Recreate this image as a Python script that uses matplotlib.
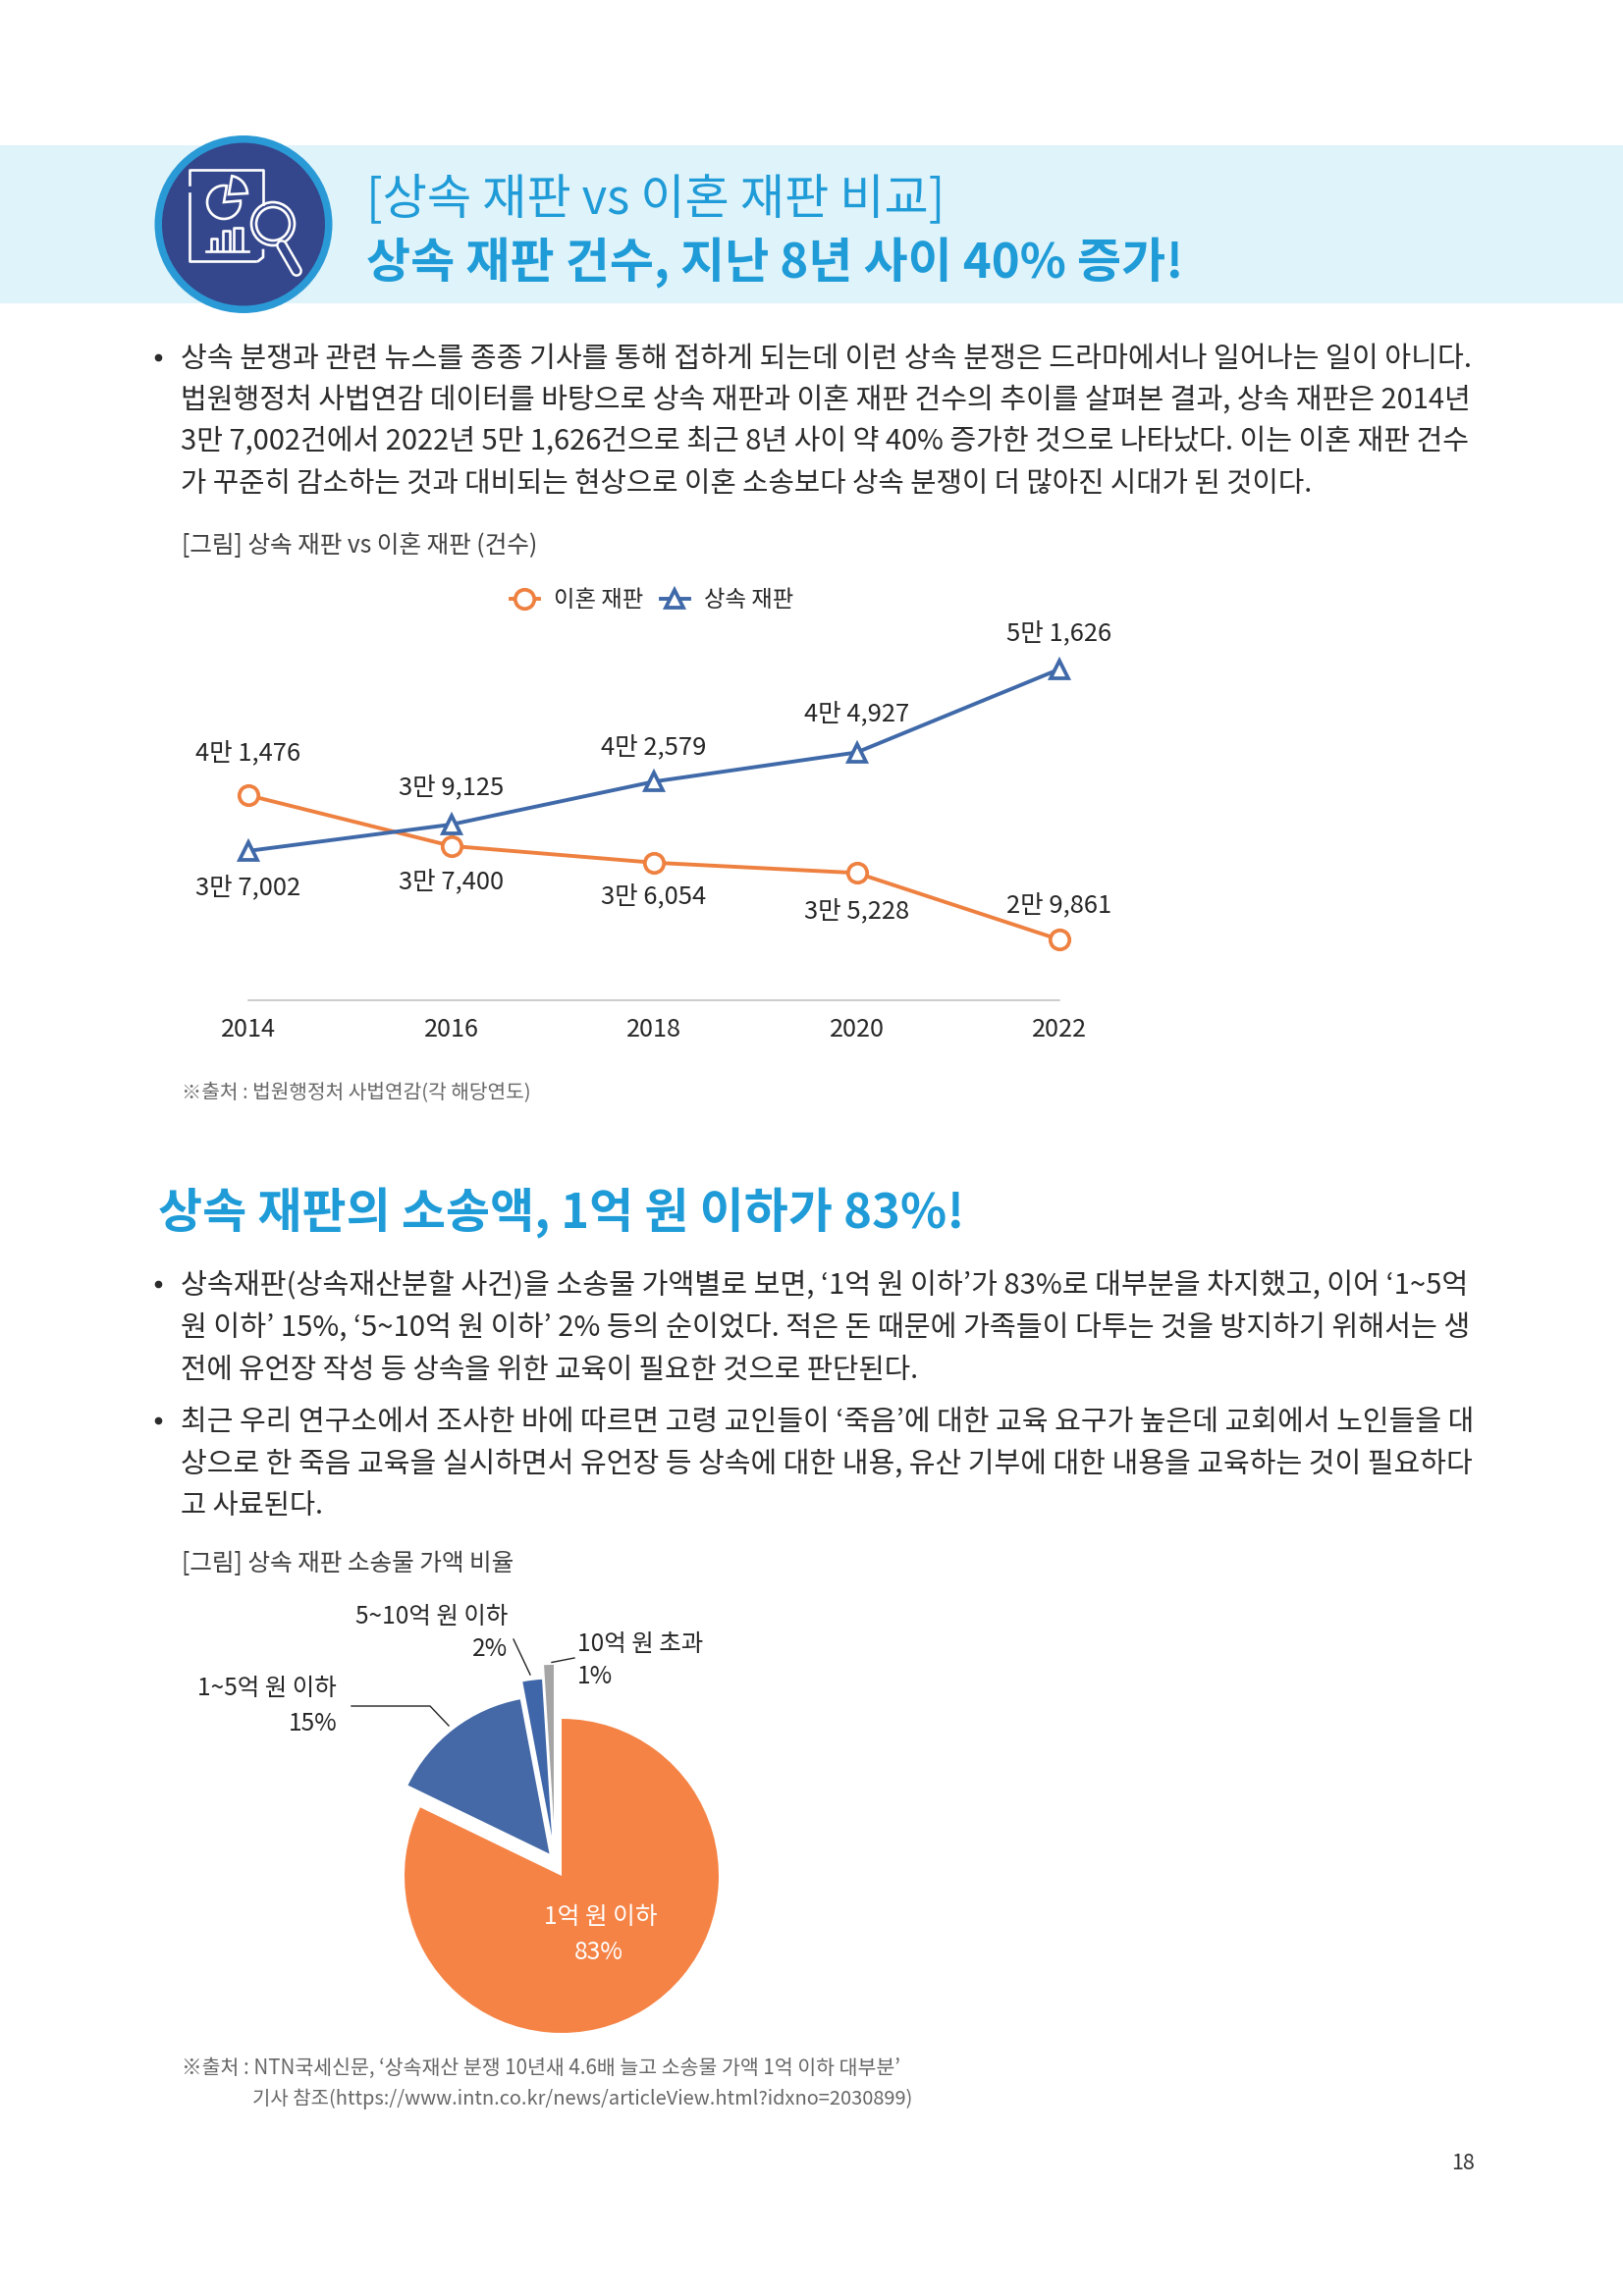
import matplotlib
matplotlib.use("Agg")
import matplotlib.pyplot as plt
from matplotlib.patches import Circle, Rectangle, Wedge

FONT = ['Noto Sans CJK KR', 'DejaVu Sans']
plt.rcParams['font.family'] = FONT
W, H = 1653, 2339
S = W / 1108

# ---------- data ----------
years = [2014, 2016, 2018, 2020, 2022]
divorce = [41476, 37400, 36054, 35228, 29861]
inherit = [37002, 39125, 42579, 44927, 51626]
divorce_labels = ['4만 1,476', '3만 7,400', '3만 6,054', '3만 5,228', '2만 9,861']
inherit_labels = ['3만 7,002', '3만 9,125', '4만 2,579', '4만 4,927', '5만 1,626']
series_names = ['이혼 재판', '상속 재판']
pie_values = [83, 15, 2, 1]
pie_colors = ['#F58345', '#4469A6', '#3F66A8', '#A5A5A5']

para1 = ['상속 분쟁과 관련 뉴스를 종종 기사를 통해 접하게 되는데 이런 상속 분쟁은 드라마에서나 일어나는 일이 아니다.',
         '법원행정처 사법연감 데이터를 바탕으로 상속 재판과 이혼 재판 건수의 추이를 살펴본 결과, 상속 재판은 2014년',
         '3만 7,002건에서 2022년 5만 1,626건으로 최근 8년 사이 약 40% 증가한 것으로 나타났다. 이는 이혼 재판 건수',
         '가 꾸준히 감소하는 것과 대비되는 현상으로 이혼 소송보다 상속 분쟁이 더 많아진 시대가 된 것이다.']
para2 = ['상속재판(상속재산분할 사건)을 소송물 가액별로 보면, ‘1억 원 이하’가 83%로 대부분을 차지했고, 이어 ‘1~5억',
         '원 이하’ 15%, ‘5~10억 원 이하’ 2% 등의 순이었다. 적은 돈 때문에 가족들이 다투는 것을 방지하기 위해서는 생',
         '전에 유언장 작성 등 상속을 위한 교육이 필요한 것으로 판단된다.']
para3 = ['최근 우리 연구소에서 조사한 바에 따르면 고령 교인들이 ‘죽음’에 대한 교육 요구가 높은데 교회에서 노인들을 대',
         '상으로 한 죽음 교육을 실시하면서 유언장 등 상속에 대한 내용, 유산 기부에 대한 내용을 교육하는 것이 필요하다',
         '고 사료된다.']

fig = plt.figure(figsize=(W / 100, H / 100), dpi=100, facecolor='white')
bg = fig.add_axes([0, 0, 1, 1])
bg.set_xlim(0, W)
bg.set_ylim(H, 0)
bg.axis('off')
rend = fig.canvas.get_renderer()
DARK = '#2B2B2B'
BLUE = '#1F9BD7'
NAVYBG = '#35478C'


def fit(txt, x0, x1, y, color=DARK, weight='normal', fs=20, ha='left'):
    """Text in page coordinates of the 1108-wide view, fitted to the width x0..x1."""
    t = bg.text(x0 * S, (y + 1.5) * S, txt, color=color, weight=weight, fontsize=fs,
                ha=ha, va='center', family=FONT)
    w = t.get_window_extent(rend).width
    t.set_fontsize(fs * (x1 - x0) * S / w)
    return t


# ---------- header ----------
bg.add_patch(Rectangle((0, 148), W, 161, fc='#DFF3FA', ec='none'))
bg.add_patch(Circle((248, 228.5), 90.5, fc='#2A9AD6', ec='none'))
bg.add_patch(Circle((248, 228.5), 83, fc=NAVYBG, ec='none'))
LW = 1.9
bg.plot([193, 193, 268, 268], [188, 173, 173, 208], color='white', lw=LW)
bg.plot([268, 268, 263], [255, 262, 266], color='white', lw=LW)
bg.plot([260, 193, 193], [266, 266, 197], color='white', lw=LW)
bg.add_patch(Wedge((228, 206), 17, -5, 280, fc='none', ec='white', lw=LW))
bg.add_patch(Wedge((233, 198), 19, -80, -3, fc='none', ec='white', lw=LW))
for bx, bw, top in zip([215, 227, 238], [6, 7, 9], [243, 235, 232]):
    bg.plot([bx, bx, bx + bw, bx + bw], [255, top, top, 255], color='white', lw=LW)
bg.plot([210, 253], [256, 256], color='white', lw=LW)
bg.plot([287, 302], [250, 276], color='white', lw=8.5, solid_capstyle='round')
bg.plot([287, 302], [250, 276], color=NAVYBG, lw=5, solid_capstyle='round')
bg.add_patch(Circle((278, 228), 22, fc=NAVYBG, ec='white', lw=LW))
bg.add_patch(Circle((278, 228), 17, fc='none', ec='white', lw=LW))

fit('[상속 재판 vs 이혼 재판 비교]', 250, 645, 134.5, color=BLUE)
fit('상속 재판 건수, 지난 8년 사이 40% 증가!', 250, 806, 178, color=BLUE, weight='bold')

# ---------- body text ----------
rights1 = [1003, 1003, 1003, 894]
for txt, y, r in zip(para1, [244, 272, 300, 329], rights1):
    fit(txt, 123, r, y)
for txt, y, r in zip(para2, [877, 905, 934], [1003, 1003, 626]):
    fit(txt, 123, r, y)
for txt, y, r in zip(para3, [970, 998, 1027], [1003, 1003, 220]):
    fit(txt, 123, r, y)
for y in [244, 877, 970]:
    bg.plot([108 * S], [y * S], 'o', color=DARK, ms=4.5)

fit('[그림] 상속 재판 vs 이혼 재판 (건수)', 124, 367, 371, color='#404040')
fit('※출처 : 법원행정처 사법연감(각 해당연도)', 124, 362, 745, color='#666666')
fit('상속 재판의 소송액, 1억 원 이하가 83%!', 108, 657, 827, color=BLUE, weight='bold')
fit('[그림] 상속 재판 소송물 가액 비율', 124, 351, 1066, color='#404040')
fit('※출처 : NTN국세신문, ‘상속재산 분쟁 10년새 4.6배 늘고 소송물 가액 1억 이하 대부분’', 124, 614, 1411, color='#666666')
fit('기사 참조(https://www.intn.co.kr/news/articleView.html?idxno=2030899)', 172, 622, 1432, color='#666666')
fit('18', 991, 1007, 1476, color='#333333')

# ---------- line chart ----------
L, R, T, B = 253, 1079, 639, 1019
ax = fig.add_axes([L / W, 1 - B / H, (R - L) / W, (B - T) / H])
ax.patch.set_alpha(0)
ax.set_xlim(2014, 2022)
ax.set_ylim(24980, 55000)
for sp in ['top', 'left', 'right']:
    ax.spines[sp].set_visible(False)
ax.spines['bottom'].set_color('#BFBFBF')
ax.spines['bottom'].set_linewidth(1.1)
ax.set_yticks([])
ax.set_xticks(years)
ax.tick_params(axis='x', length=0, pad=12, labelsize=18.2, labelcolor='#262626')
ORANGE, NAVY = '#EE8040', '#3F69A8'
l1, = ax.plot(years, divorce, '-o', color=ORANGE, lw=2.8, ms=14, mfc='white', mew=2.7,
              clip_on=False, label=series_names[0])
l2, = ax.plot(years, inherit, '-^', color=NAVY, lw=2.8, ms=13.5, mfc='white', mew=2.7,
              clip_on=False, label=series_names[1])
off_div = [31, -26, -25, -28, 25]
off_inh = [-27, 27, 25, 28, 26]
for x, v, s, o in zip(years, divorce, divorce_labels, off_div):
    ax.annotate(s, (x, v), xytext=(0, o), textcoords='offset points', ha='center', va='center',
                fontsize=18.4, color='#262626', annotation_clip=False)
for x, v, s, o in zip(years, inherit, inherit_labels, off_inh):
    ax.annotate(s, (x, v), xytext=(0, o), textcoords='offset points', ha='center', va='center',
                fontsize=18.4, color='#262626', annotation_clip=False)
fig.legend(handles=[l1, l2], loc='center', bbox_to_anchor=(445 * S / W, 1 - 410 * S / H), ncol=2,
           frameon=False, fontsize=16.8, handlelength=1.25, handletextpad=0.65, columnspacing=0.75,
           labelcolor='#262626')

# ---------- pie ----------
cx, cy, rad = 572, 1911, 160
span = 1.6 * rad
pa = fig.add_axes([(cx - span) / W, 1 - (cy + span) / H, 2 * span / W, 2 * span / H])
pa.patch.set_alpha(0)
wedges, _ = pa.pie(pie_values, colors=pie_colors, startangle=90, counterclock=False, radius=1,
                   explode=[0, 0.16, 0.26, 0.35])
pa.set_xlim(-1.6, 1.6)
pa.set_ylim(-1.6, 1.6)
for w, c in zip(wedges, [(0, 0), (-0.078, 0.141), (-0.0625, 0.253), (-0.05, 0.344)]):
    w.set_center(c)


def plabel(txt, x, y, ha, color='#262626'):
    bg.text(x * S, (y + 1) * S, txt, ha=ha, va='center', fontsize=17.6, color=color, family=FONT, zorder=5)


plabel('5~10억 원 이하', 347, 1103, 'right')
plabel('2%', 347, 1125, 'right')
plabel('10억 원 초과', 394, 1122, 'left')
plabel('1%', 394, 1144, 'left')
plabel('1~5억 원 이하', 230, 1152, 'right')
plabel('15%', 230, 1176, 'right')
fig.text(410 * S / W, 1 - 1309 * S / H, '1억 원 이하', ha='center', va='center', fontsize=17.8,
         color='white', family=FONT, zorder=10)
fig.text(409 * S / W, 1 - 1333 * S / H, '83%', ha='center', va='center', fontsize=17.8,
         color='white', family=FONT, zorder=10)
for xs, ys in [([358, 438, 457], [1738, 1738, 1758]), ([523, 540], [1670, 1706]), ([562, 585], [1693.5, 1689])]:
    bg.plot(xs, ys, color='#222222', lw=1)

fig.savefig('out.png', dpi=100, facecolor='white')
